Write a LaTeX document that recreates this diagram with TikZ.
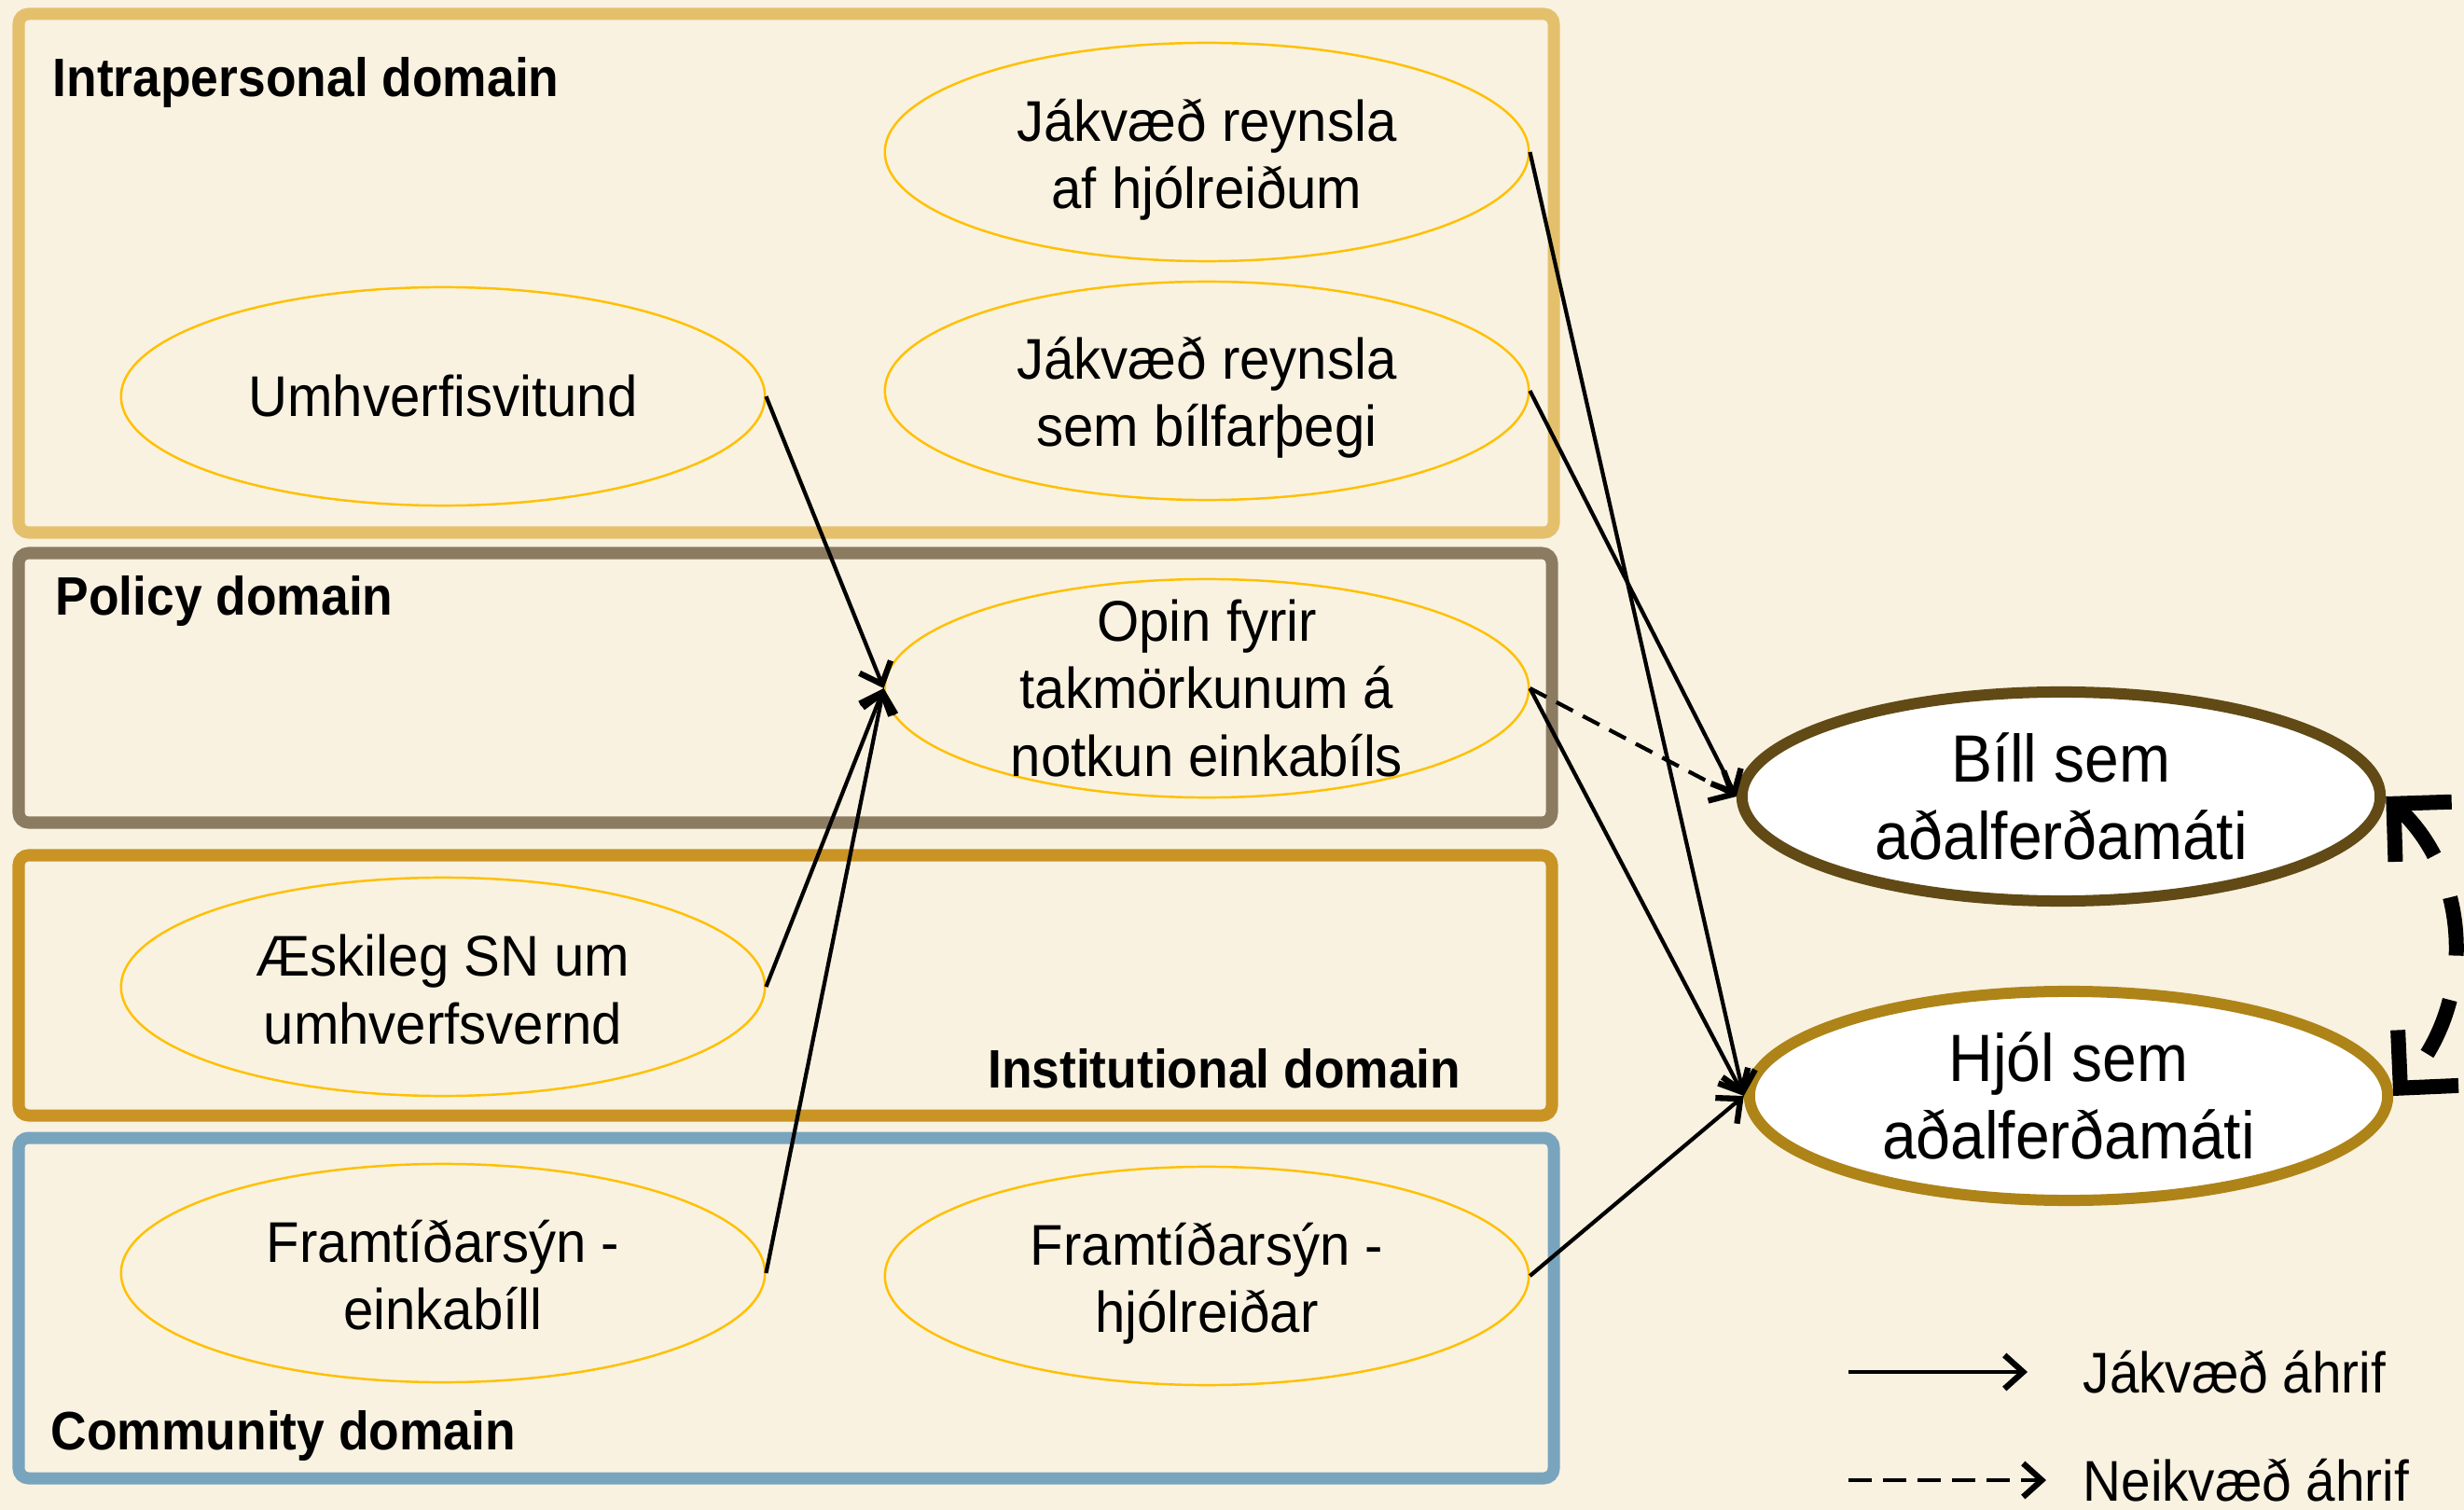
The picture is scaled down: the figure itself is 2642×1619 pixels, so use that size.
\documentclass[tikz,border=0pt]{standalone}
\usepackage{fontspec}
\setmainfont[FakeStretch=0.92]{Liberation Sans}
\newfontfamily\ellfont[FakeStretch=0.945]{Liberation Sans}
\usetikzlibrary{shapes.geometric,arrows.meta}
\definecolor{bg}{HTML}{F9F2E1}
\definecolor{intrac}{HTML}{E5C06C}
\definecolor{policyc}{HTML}{8B7B60}
\definecolor{instc}{HTML}{C99424}
\definecolor{commc}{HTML}{79A4BE}
\definecolor{elly}{HTML}{FFC000}
\definecolor{bilc}{HTML}{614A15}
\definecolor{hjolc}{HTML}{AE8418}
\tikzset{
  domainbox/.style={draw, line width=0.13cm, rounded corners=3pt},
  domlabel/.style={font=\bfseries\fontsize{16.5}{20}\selectfont, inner sep=0pt},
  sell/.style={ellipse, draw=elly, line width=0.7pt, minimum width=6.9cm, minimum height=2.34cm, inner sep=0pt, align=center, font=\ellfont\fontsize{17.5}{20.6}\selectfont},
  bell/.style={ellipse, draw, fill=white, line width=0.12cm, minimum width=6.84cm, minimum height=2.24cm, inner sep=0pt, align=center, font=\fontsize{20.4}{23.5}\selectfont},
  arr/.style={line width=1.2pt, -{Straight Barb[length=0.2cm,width=0.36cm,line width=1.8pt]}},
  dasharr/.style={arr, dash pattern=on 0.2cm off 0.12cm},
  legtext/.style={anchor=west, inner sep=0pt, font=\fontsize{17.5}{21}\selectfont},
}
\begin{document}
\begin{tikzpicture}[x=0.01cm,y=-0.01cm]
\fill[bg] (0,0) rectangle (2642,1619);
\useasboundingbox (0,0) rectangle (2642,1619);

% domain boxes
\draw[domainbox, intrac] (20,15) rectangle (1666,571);
\draw[domainbox, policyc] (20,593) rectangle (1664,882);
\draw[domainbox, instc] (20,917) rectangle (1664,1196);
\draw[domainbox, commc] (20,1220) rectangle (1666,1585);

\node[domlabel, anchor=west] (lintra) at (56,89) {Intrapersonal domain};
\node[domlabel, anchor=west] (lpol) at (59,645) {Policy domain};
\node[domlabel, anchor=east] (linst) at (1567,1146) {Institutional domain};
\node[domlabel, anchor=west] (lcomm) at (54,1539) {Community domain};

% small ellipses (outline) with text placed separately centred
\node[sell] (e1) at (1294,163) {};
\node[sell] (e2) at (475,425) {};
\node[sell] (e3) at (1294,419) {};
\node[sell] (e4) at (1294,738) {};
\node[sell] (e5) at (475,1058) {};
\node[sell] (e6) at (475,1365) {};
\node[sell] (e7) at (1294,1368) {};
\tikzset{etext/.style={align=center, inner sep=0pt, font=\ellfont\fontsize{17.5}{20.6}\selectfont}}
\node[etext] (t1) at (1294,171) {Jákvæð reynsla\\af hjólreiðum};
\node[etext] (t2) at (475,425) {Umhverfisvitund};
\node[etext] (t3) at (1294,426) {Jákvæð reynsla\\sem bílfarþegi};
\node[etext] (t4) at (1294,738) {Opin fyrir\\takmörkunum á\\notkun einkabíls};
\node[etext] (t5) at (475,1061) {Æskileg SN um\\umhverfsvernd};
\node[etext] (t6) at (475,1367) {Framtíðarsýn -\\einkabíll};
\node[etext] (t7) at (1294,1376) {Framtíðarsýn -\\hjólreiðar};

% big ellipses
\node[bell, draw=bilc] (bil) at (2210,854) {Bíll sem\\aðalferðamáti};
\node[bell, draw=hjolc] (hjol) at (2218,1175) {Hjól sem\\aðalferðamáti};

% connectors
\draw[arr] (e2.east) -- (e4.west);
\draw[arr] (e5.east) -- (e4.west);
\draw[arr] (e6.east) -- (e4.west);
\draw[arr] (e1.east) -- (hjol.west);
\draw[arr] (e3.east) -- (bil.west);
\draw[arr] (e4.east) -- (hjol.west);
\draw[dasharr] (e4.east) -- (bil.west);
\draw[arr] (e7.east) -- (hjol.west);

% feedback arc
\draw[line width=0.16cm, dash pattern=on 0.63cm off 0.48cm,
  {Straight Barb[length=0.44cm,width=0.88cm]}-{Straight Barb[length=0.44cm,width=0.88cm]}]
  (bil.east) .. controls (2651,941) and (2655,1078) .. (hjol.east);

% legend
\coordinate (la) at (1982,1471);
\coordinate (lb) at (2174,1471);
\coordinate (lc) at (1982,1587);
\coordinate (ld) at (2194,1587);
\draw[arr, line width=1.4pt] (la) -- (lb);
\draw[arr, line width=1.4pt, dash pattern=on 0.25cm off 0.12cm] (lc) -- (ld);
\node[legtext] (tj) at (2233,1471) {Jákvæð áhrif};
\node[legtext] (tn) at (2233,1587) {Neikvæð áhrif};
\end{tikzpicture}
\end{document}
